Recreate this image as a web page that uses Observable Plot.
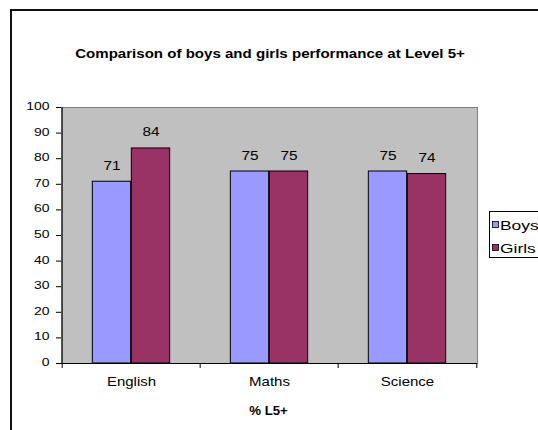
<!DOCTYPE html>
<html>
<head>
<meta charset="utf-8">
<script src="https://cdn.jsdelivr.net/npm/d3@7"></script>
<script src="https://cdn.jsdelivr.net/npm/@observablehq/plot@0.6"></script>
<style>
  html, body { margin: 0; padding: 0; background: #fff; }
  #wrap { position: relative; width: 538px; height: 430px; overflow: hidden; background: #fff; }
</style>
</head>
<body>
<div id="wrap"></div>
<script>
// ---- data ----
const subjects = ["English", "Maths", "Science"];
const boys = [71, 75, 75];
const girls = [84, 75, 74];
const seriesNames = ["Boys", "Girls"];
const seriesColors = ["#9999ff", "#993366"];
const yTicks = [0, 10, 20, 30, 40, 50, 60, 70, 80, 90, 100];
const titleText = "Comparison of boys and girls performance at Level 5+";
const xTitle = "% L5+";

const rows = subjects.map((s, i) => ({subject: s, boys: boys[i], girls: girls[i]}));

const W = 538, H = 430;
const mL = 61, mR = 61, mT = 107, mB = 67;
const step = (W - mL - mR) / subjects.length;
const barW = 39;
const outer = (step - 2 * barW) / 2;
const font = "'Liberation Sans', Arial, sans-serif";

const chart = Plot.plot({
  width: W, height: H,
  marginLeft: mL, marginRight: mR, marginTop: mT, marginBottom: mB,
  style: {fontFamily: font, fontSize: "11px", color: "black", background: "white"},
  x: {domain: subjects, padding: 0},
  y: {domain: [0, 100]},
  marks: [
    Plot.frame({fill: "#c0c0c0", stroke: "#808080"}),
    Plot.barY(rows, {x: "subject", y: "boys", fill: seriesColors[0], stroke: "black", strokeWidth: 1,
      insetLeft: outer, insetRight: step / 2}),
    Plot.barY(rows, {x: "subject", y: "girls", fill: seriesColors[1], stroke: "black", strokeWidth: 1,
      insetLeft: step / 2, insetRight: outer}),
    Plot.text(rows, {x: "subject", y: "boys", text: "boys", dx: -barW / 2, dy: -12, fontSize: 12, fill: "black"}),
    Plot.text(rows, {x: "subject", y: "girls", text: "girls", dx: barW / 2, dy: -12, fontSize: 12, fill: "black"}),
    Plot.ruleY([0], {stroke: "black"}),
    Plot.ruleX([subjects[0]], {dx: -step / 2, stroke: "black"}),
    Plot.axisY({ticks: yTicks, tickSize: 5, tickPadding: 7, fontSize: 10.5, label: null}),
    Plot.axisX({tickSize: 0, tickPadding: 22, fontSize: 12.5, label: null}),
    Plot.axisX({tickSize: 5, tickFormat: () => "", dx: -step / 2, label: null}),
    Plot.axisX([subjects[subjects.length - 1]], {tickSize: 5, tickFormat: () => "", dx: step / 2, label: null})
  ]
});

document.getElementById("wrap").appendChild(chart);
const svg = d3.select(chart);

// horizontal stretch of text to match the reference's wide glyphs
function stretch(sel, k, dy = 0) {
  sel.each(function () {
    const x = +this.getAttribute("x") || 0;
    const y = +this.getAttribute("y") || 0;
    const t = this.getAttribute("transform") || "";
    this.removeAttribute("x");
    this.removeAttribute("y");
    this.setAttribute("transform", `${t} translate(${x},${y + dy}) scale(${k},1)`);
  });
}
svg.selectAll("g[aria-label='y-axis tick label'] text").call(stretch, 1.33, 2.5);
svg.selectAll("g[aria-label='x-axis tick label'] text").call(stretch, 1.2);
svg.selectAll("g[aria-label='text'] text").call(stretch, 1.28);

// outer chart border
svg.append("rect").attr("x", 11).attr("y", 10).attr("width", 700).attr("height", 700)
  .attr("fill", "none").attr("stroke", "#111").attr("stroke-width", 2);

// title
svg.append("text").attr("transform", `translate(270,58) scale(1.16,1)`)
  .attr("text-anchor", "middle").attr("font-family", font).attr("font-weight", "bold")
  .attr("font-size", 13).attr("fill", "black").text(titleText);

// x title
svg.append("text").attr("transform", `translate(268.5,415) scale(1.1,1)`)
  .attr("text-anchor", "middle").attr("font-family", font).attr("font-weight", "bold")
  .attr("font-size", 12).attr("fill", "black").text(xTitle);

// legend
const lg = svg.append("g");
lg.append("rect").attr("x", 489.5).attr("y", 211.5).attr("width", 80).attr("height", 46)
  .attr("fill", "white").attr("stroke", "black");
seriesNames.forEach((name, i) => {
  const cy = 225 + i * 23;
  lg.append("rect").attr("x", 492.5).attr("y", cy - 3.5).attr("width", 6).attr("height", 6)
    .attr("fill", seriesColors[i]).attr("stroke", "black").attr("stroke-width", 0.8);
  lg.append("text").attr("transform", `translate(500,${cy + 4.5}) scale(1.45,1)`)
    .attr("text-anchor", "start")
    .attr("font-family", font).attr("font-size", 12).attr("fill", "black").text(name);
});
</script>
</body>
</html>
